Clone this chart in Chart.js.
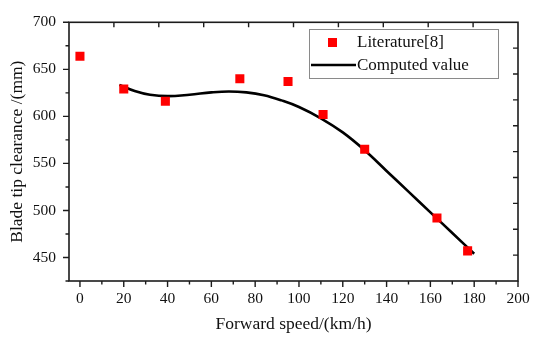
<!DOCTYPE html>
<html lang="en">
<head>
  <meta charset="UTF-8" />
  <title>Blade tip clearance vs forward speed</title>
  <script src="https://cdn.jsdelivr.net/npm/chart.js"></script>
  <style>
    html, body { margin: 0; padding: 0; background: #fff; }
    #wrap { width: 543px; height: 340px; position: relative; }
  </style>
</head>
<body>
  <div id="wrap"><canvas id="chartCanvas"></canvas></div>

  <script>
    // Literature values (square markers)
    const litSpeed = [0, 20, 39, 73, 95, 111, 130, 163, 177];
    const litClear = [664, 629, 616, 640, 637, 602, 565, 492, 457];

    // Computed curve
    const calcSpeed = [18, 25, 32, 40, 50, 60, 68, 76, 84, 92, 100, 110, 120, 130, 140, 150, 160, 170, 180];
    const calcClear = [633.5, 627, 623, 621.5, 623, 625.5, 626.5, 625.5, 622.5, 617, 610, 598, 583, 564, 542, 520, 498, 476, 454];

    // Axis ticks
    const xMajor = [0, 20, 40, 60, 80, 100, 120, 140, 160, 180, 200];
    const xMinor = [10, 30, 50, 70, 90, 110, 130, 150, 170, 190];
    const yMajor = [450, 500, 550, 600, 650, 700];
    const yMinor = [425, 475, 525, 575, 625, 675];
    const frameDivs = [1, 2, 3, 4, 5, 6, 7, 8, 9];

    const serif = "'Liberation Serif', 'Times New Roman', serif";

    // frame + tick marks (outward on bottom/left, inward on top/right)
    const frameTicks = {
      id: 'frameTicks',
      afterDatasetsDraw(chart) {
        const { ctx, chartArea: a, scales } = chart;
        ctx.save();
        ctx.strokeStyle = '#1c1c1c';
        ctx.lineWidth = 1.6;
        ctx.strokeRect(a.left, a.top, a.right - a.left, a.bottom - a.top);
        ctx.lineWidth = 1.4;
        ctx.beginPath();
        xMajor.forEach(v => { const x = scales.x.getPixelForValue(v); ctx.moveTo(x, a.bottom); ctx.lineTo(x, a.bottom + 6); });
        xMinor.forEach(v => { const x = scales.x.getPixelForValue(v); ctx.moveTo(x, a.bottom); ctx.lineTo(x, a.bottom + 3.5); });
        yMajor.forEach(v => { const y = scales.y.getPixelForValue(v); ctx.moveTo(a.left, y); ctx.lineTo(a.left - 6, y); });
        yMinor.forEach(v => { const y = scales.y.getPixelForValue(v); ctx.moveTo(a.left, y); ctx.lineTo(a.left - 3.5, y); });
        frameDivs.forEach(v => {
          const x = scales.x2.getPixelForValue(v);
          ctx.moveTo(x, a.top); ctx.lineTo(x, a.top + 5);
          const y = scales.y2.getPixelForValue(v);
          ctx.moveTo(a.right, y); ctx.lineTo(a.right - 5, y);
        });
        ctx.stroke();
        ctx.restore();
      }
    };

    // boxed legend inside the plot
    const boxLegend = {
      id: 'boxLegend',
      afterDraw(chart) {
        const { ctx } = chart;
        const ds = chart.data.datasets;
        ctx.save();
        ctx.strokeStyle = '#8a8a8a';
        ctx.lineWidth = 1;
        ctx.strokeRect(309.5, 29.5, 189, 49);
        ctx.fillStyle = ds[0].backgroundColor;
        ctx.fillRect(328, 38, 9, 9);
        ctx.strokeStyle = ds[1].borderColor;
        ctx.lineWidth = 2.6;
        ctx.beginPath();
        ctx.moveTo(311, 65);
        ctx.lineTo(356, 65);
        ctx.stroke();
        ctx.fillStyle = '#111';
        ctx.font = '17px ' + serif;
        ctx.textBaseline = 'middle';
        ctx.fillText(ds[0].label, 357, 43);
        ctx.fillText(ds[1].label, 357, 66);
        ctx.restore();
      }
    };

    const ctx = document.getElementById('chartCanvas').getContext('2d');
    new Chart(ctx, {
      type: 'scatter',
      data: {
        datasets: [{
          label: 'Literature[8]',
          data: litSpeed.map((s, i) => ({ x: s, y: litClear[i] })),
          backgroundColor: '#ff0000',
          borderWidth: 0,
          pointStyle: 'rect',
          pointRadius: 6.4
        }, {
          label: 'Computed value',
          type: 'line',
          data: calcSpeed.map((s, i) => ({ x: s, y: calcClear[i] })),
          borderColor: '#000',
          borderWidth: 2.6,
          pointRadius: 0,
          fill: false,
          tension: 0.4
        }]
      },
      options: {
        responsive: true,
        maintainAspectRatio: false,
        animation: false,
        layout: { padding: { top: 15, right: 25, left: 0, bottom: 0 } },
        plugins: { legend: { display: false }, tooltip: { enabled: false } },
        scales: {
          x: {
            type: 'linear', min: -5, max: 200,
            afterFit: s => { s.height = 59; },
            grid: { display: false, drawTicks: false },
            border: { display: false },
            ticks: {
              autoSkip: false, padding: 9, color: '#111',
              font: { family: serif, size: 15.5 },
              callback: v => v
            },
            afterBuildTicks: s => { s.ticks = xMajor.map(v => ({ value: v })); },
            title: { display: true, text: 'Forward speed/(km/h)', color: '#111', font: { family: serif, size: 17.5 }, padding: { bottom: 5 } }
          },
          y: {
            min: 425, max: 700,
            afterFit: s => { s.width = 69; },
            grid: { display: false, drawTicks: false },
            border: { display: false },
            ticks: {
              autoSkip: false, padding: 13, color: '#111',
              font: { family: serif, size: 15.5 },
              callback: v => v
            },
            afterBuildTicks: s => { s.ticks = yMajor.map(v => ({ value: v })); },
            title: { display: true, text: 'Blade tip clearance /(mm)', color: '#111', font: { family: serif, size: 17.5 }, padding: { top: 7 } }
          },
          x2: { type: 'linear', position: 'top', min: 0, max: 10, display: false },
          y2: { type: 'linear', position: 'right', min: 0, max: 10, display: false }
        }
      },
      plugins: [frameTicks, boxLegend]
    });
  </script>
</body>
</html>
